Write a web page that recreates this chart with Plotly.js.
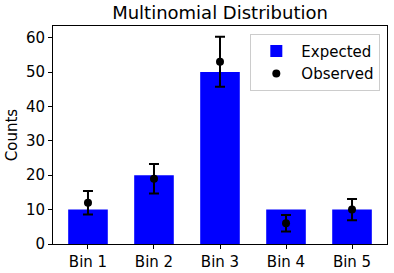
<!DOCTYPE html>
<html>
<head>
<meta charset="utf-8">
<script src="https://cdn.plot.ly/plotly-3.0.1.min.js"></script>
<style>html,body{margin:0;padding:0;background:#fff;}#chart{width:394px;height:273px;}</style>
</head>
<body>
<div id="chart"></div>
<script>
const categories = ["Bin 1", "Bin 2", "Bin 3", "Bin 4", "Bin 5"];
const expected = [10, 20, 50, 10, 10];
const observed = [12, 19, 53, 6, 10];
const observedErr = [3.4, 4.3, 7.3, 2.4, 3.1];
const yTicks = [0, 10, 20, 30, 40, 50, 60];

const xIdx = categories.map((_, i) => i);
const font = {family: "DejaVu Sans", size: 15, color: "#000"};

const traces = [
  {
    type: "bar", name: "Expected", x: xIdx, y: expected, width: 0.6,
    marker: {color: "#0000ff", line: {width: 0}}
  },
  {
    type: "scatter", mode: "markers", name: "Observed", x: xIdx, y: observed,
    marker: {color: "#000", size: 8},
    error_y: {type: "data", array: observedErr, visible: true, color: "#000", thickness: 2, width: 5}
  }
];

const layout = {
  width: 394, height: 273,
  margin: {l: 53, r: 7, t: 26, b: 29},
  paper_bgcolor: "#fff", plot_bgcolor: "#fff",
  font: font,
  showlegend: true,
  title: {text: "Multinomial Distribution", font: {family: "DejaVu Sans", size: 18, color: "#000"},
          x: 0.5, xanchor: "center", xref: "paper", y: 0.952, yref: "container", yanchor: "middle"},
  xaxis: {
    range: [-0.53, 4.53], tickmode: "array", tickvals: xIdx, ticktext: categories,
    showgrid: false, zeroline: false, showline: true, mirror: true, linecolor: "#000", linewidth: 1,
    ticks: "outside", ticklen: 4, tickwidth: 1, tickcolor: "#000", tickfont: font, fixedrange: true
  },
  yaxis: {
    range: [0, 63.4], tickmode: "array", tickvals: yTicks,
    showgrid: false, zeroline: false, showline: true, mirror: true, linecolor: "#000", linewidth: 1,
    ticks: "outside", ticklen: 4, tickwidth: 1, tickcolor: "#000", tickfont: font,
    title: {text: "Counts", font: font, standoff: 4}
  },
  legend: {
    x: 0.98, xanchor: "right", y: 0.965, yanchor: "top",
    bgcolor: "#fff", bordercolor: "#ccc", borderwidth: 1,
    font: font, itemwidth: 40, tracegroupgap: 2
  }
};

Plotly.newPlot("chart", traces, layout, {displayModeBar: false, staticPlot: true});
</script>
</body>
</html>
